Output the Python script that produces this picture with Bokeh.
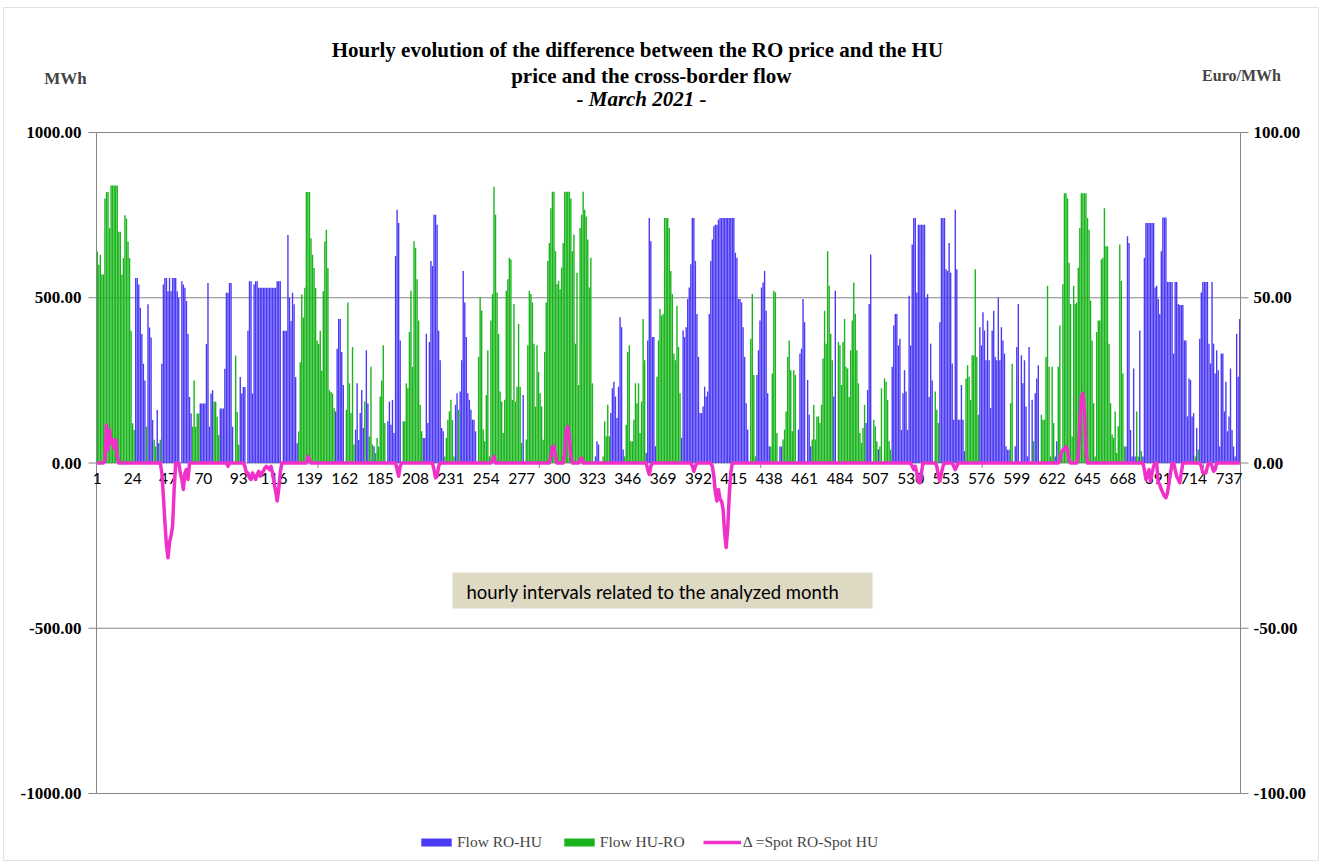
from bokeh.plotting import figure
from bokeh.models import (Range1d, Legend, LegendItem, Label, BoxAnnotation, ColumnDataSource)
from bokeh.core.properties import value
from bokeh.embed import file_html
from bokeh.resources import INLINE

# ---------------- data (one line per day, 24 hours) -------------
hour_labels = [1, 24, 47, 70, 93, 116, 139, 162, 185, 208, 231, 254, 277, 300, 323, 346,
               369, 392, 415, 438, 461, 484, 507, 530, 553, 576, 599, 622, 645, 668, 691,
               714, 737]

# Flow RO-HU, MWh
flow_ro_hu = [
    0, 0, 0, 0, 0, 0, 0, 0, 0, 0, 0, 0, 0, 0, 0, 0, 0, 0, 0, 0, 0, 0, 0, 0,
    0, 560, 560, 540, 470, 390, 300, 250, 0, 480, 410, 380, 130, 0, 0, 160, 60, 0, 300, 540, 560, 560, 520, 560,
    520, 560, 560, 560, 520, 500, 0, 550, 540, 530, 490, 390, 200, 150, 0, 0, 0, 0, 0, 180, 180, 180, 180, 360,
    545, 110, 210, 220, 0, 0, 0, 0, 165, 165, 165, 285, 515, 515, 545, 545, 110, 0, 0, 0, 0, 260, 210, 230,
    230, 0, 400, 550, 550, 210, 540, 550, 550, 530, 530, 530, 530, 530, 530, 530, 530, 530, 530, 530, 530, 550, 550, 550,
    0, 400, 400, 400, 690, 500, 430, 515, 480, 260, 60, 0, 0, 0, 0, 0, 0, 0, 0, 0, 0, 0, 0, 0,
    0, 0, 0, 0, 0, 0, 0, 0, 0, 0, 0, 156, 346, 436, 436, 336, 236, 0, 0, 0, 0, 0, 0, 0,
    101, 241, 70, 151, 221, 106, 0, 341, 180, 0, 0, 0, 50, 0, 0, 0, 0, 0, 0, 0, 0, 126, 186, 116,
    191, 91, 626, 766, 726, 371, 0, 0, 0, 0, 0, 0, 0, 0, 0, 0, 0, 0, 0, 0, 76, 76, 391, 121,
    366, 611, 596, 751, 751, 721, 400, 311, 106, 96, 0, 0, 0, 0, 0, 0, 0, 176, 211, 0, 216, 311, 581, 486,
    381, 211, 191, 161, 131, 131, 96, 0, 0, 0, 0, 0, 0, 0, 0, 0, 0, 0, 0, 0, 0, 0, 0, 0,
    0, 0, 0, 0, 0, 0, 0, 0, 0, 0, 0, 0, 0, 206, 0, 0, 0, 0, 0, 0, 0, 0, 0, 0,
    0, 0, 0, 0, 0, 0, 0, 0, 0, 0, 0, 0, 0, 0, 0, 0, 0, 0, 0, 0, 0, 0, 0, 0,
    0, 0, 0, 0, 0, 0, 0, 0, 0, 0, 0, 0, 20, 66, 56, 0, 0, 0, 0, 0, 0, 0, 151, 226,
    246, 201, 136, 231, 441, 411, 41, 0, 0, 0, 0, 0, 0, 0, 0, 0, 0, 0, 0, 0, 0, 30, 371, 741,
    671, 381, 381, 51, 0, 0, 0, 0, 0, 0, 0, 0, 0, 0, 0, 0, 0, 0, 0, 0, 76, 401, 381, 411,
    496, 531, 601, 741, 741, 611, 451, 321, 151, 151, 171, 231, 201, 216, 451, 611, 676, 716, 721, 721, 736, 741, 741, 741,
    741, 741, 741, 741, 741, 741, 741, 636, 621, 496, 496, 486, 411, 321, 181, 101, 0, 0, 0, 0, 0, 266, 341, 431,
    531, 546, 581, 461, 211, 51, 0, 0, 0, 0, 0, 0, 50, 50, 0, 0, 0, 0, 0, 0, 0, 0, 0, 0,
    101, 331, 346, 496, 426, 0, 251, 146, 51, 0, 0, 0, 0, 0, 0, 0, 0, 0, 0, 0, 0, 0, 0, 201,
    521, 0, 0, 0, 0, 0, 0, 0, 0, 0, 0, 0, 0, 0, 0, 0, 0, 0, 0, 0, 121, 221, 481, 631,
    0, 0, 0, 0, 41, 0, 0, 0, 0, 0, 0, 0, 0, 291, 416, 451, 451, 356, 376, 100, 211, 281, 216, 100,
    506, 356, 661, 741, 741, 516, 721, 721, 721, 721, 721, 501, 511, 200, 361, 250, 0, 0, 0, 0, 426, 741, 741, 741,
    586, 581, 666, 576, 301, 131, 766, 586, 131, 131, 236, 131, 36, 0, 0, 0, 0, 0, 0, 0, 0, 0, 411, 356,
    456, 401, 311, 431, 311, 166, 401, 461, 321, 311, 501, 311, 411, 371, 331, 51, 40, 40, 0, 0, 0, 51, 351, 481,
    0, 326, 241, 311, 171, 20, 351, 0, 191, 0, 211, 256, 296, 0, 0, 0, 0, 0, 0, 0, 0, 0, 0, 20,
    66, 0, 0, 0, 0, 0, 0, 0, 0, 0, 0, 0, 0, 0, 0, 0, 0, 0, 0, 0, 0, 0, 0, 0,
    0, 0, 0, 0, 0, 0, 0, 0, 0, 0, 0, 0, 0, 0, 0, 0, 0, 0, 0, 0, 0, 50, 686, 666,
    100, 20, 286, 20, 0, 0, 401, 0, 20, 621, 726, 726, 726, 726, 726, 726, 531, 536, 496, 451, 641, 743, 743, 743,
    548, 548, 548, 548, 331, 548, 548, 481, 478, 478, 478, 371, 371, 141, 256, 251, 141, 151, 0, 106, 0, 376, 516, 548,
    548, 548, 548, 361, 301, 548, 361, 271, 341, 281, 50, 331, 331, 156, 246, 96, 141, 286, 100, 50, 20, 391, 261, 436,
]

# Flow HU-RO, MWh
flow_hu_ro = [
    640, 600, 630, 570, 570, 800, 820, 820, 710, 840, 840, 840, 840, 840, 700, 700, 570, 620, 750, 740, 670, 620, 400, 120,
    100, 0, 0, 0, 0, 0, 0, 0, 110, 0, 0, 0, 0, 70, 50, 0, 0, 70, 0, 0, 0, 0, 0, 0,
    0, 0, 0, 0, 0, 0, 0, 0, 0, 0, 0, 0, 0, 0, 110, 250, 110, 150, 150, 0, 0, 0, 0, 0,
    0, 0, 0, 0, 185, 185, 140, 85, 0, 0, 0, 0, 0, 0, 0, 0, 0, 0, 325, 155, 55, 0, 0, 0,
    0, 0, 0, 0, 0, 0, 0, 0, 0, 0, 0, 0, 0, 0, 0, 0, 0, 0, 0, 0, 0, 0, 0, 0,
    0, 0, 0, 0, 0, 0, 0, 0, 0, 0, 0, 95, 305, 510, 440, 530, 820, 820, 820, 680, 630, 590, 530, 370,
    360, 400, 280, 520, 670, 706, 590, 220, 215, 210, 166, 0, 0, 0, 0, 0, 0, 0, 161, 486, 241, 151, 351, 56,
    0, 0, 0, 0, 0, 0, 186, 0, 0, 80, 291, 56, 0, 30, 76, 50, 201, 250, 356, 121, 0, 0, 0, 0,
    0, 0, 0, 0, 0, 0, 0, 126, 126, 241, 226, 396, 521, 291, 671, 651, 556, 431, 176, 96, 0, 0, 0, 0,
    0, 0, 0, 0, 0, 0, 0, 0, 0, 0, 20, 76, 131, 156, 191, 130, 20, 0, 0, 161, 0, 0, 0, 0,
    0, 0, 0, 0, 0, 0, 0, 0, 321, 501, 461, 101, 66, 206, 341, 20, 431, 511, 836, 751, 516, 391, 216, 186,
    91, 191, 521, 556, 621, 616, 191, 481, 186, 231, 421, 231, 61, 0, 0, 71, 356, 521, 511, 486, 361, 171, 356, 276,
    211, 171, 70, 336, 486, 611, 666, 771, 821, 821, 641, 541, 551, 526, 591, 666, 821, 821, 821, 821, 800, 641, 691, 361,
    576, 236, 711, 751, 821, 766, 746, 676, 531, 621, 241, 0, 0, 0, 0, 0, 0, 20, 126, 81, 176, 81, 0, 0,
    0, 0, 0, 0, 0, 0, 0, 20, 116, 336, 356, 66, 66, 131, 241, 181, 241, 91, 186, 436, 311, 0, 0, 0,
    0, 0, 0, 0, 261, 371, 466, 446, 451, 741, 741, 741, 711, 581, 511, 331, 311, 476, 351, 211, 0, 0, 0, 0,
    0, 0, 0, 0, 0, 0, 0, 0, 0, 0, 0, 0, 0, 0, 0, 0, 0, 0, 0, 0, 0, 0, 0, 0,
    0, 0, 0, 0, 0, 0, 0, 0, 0, 0, 0, 0, 0, 0, 0, 0, 0, 376, 511, 266, 20, 0, 0, 0,
    0, 0, 0, 0, 0, 0, 50, 271, 521, 516, 91, 0, 0, 0, 71, 101, 156, 321, 371, 281, 96, 281, 266, 0,
    0, 0, 0, 0, 0, 0, 0, 0, 0, 71, 176, 71, 141, 141, 121, 176, 316, 461, 361, 641, 536, 391, 311, 0,
    0, 0, 366, 356, 236, 366, 436, 291, 286, 200, 341, 431, 546, 451, 341, 241, 91, 61, 106, 176, 0, 0, 0, 0,
    0, 131, 111, 66, 0, 50, 226, 0, 256, 246, 191, 66, 40, 0, 0, 0, 0, 0, 0, 0, 0, 0, 0, 0,
    0, 0, 0, 0, 0, 0, 0, 0, 0, 0, 0, 0, 0, 0, 0, 0, 0, 216, 161, 121, 0, 0, 0, 0,
    0, 0, 0, 0, 0, 0, 0, 0, 0, 0, 0, 0, 0, 256, 296, 261, 191, 326, 326, 586, 321, 146, 0, 0,
    0, 0, 0, 0, 0, 0, 0, 0, 0, 0, 0, 0, 0, 0, 0, 0, 0, 0, 181, 300, 0, 0, 0, 0,
    0, 0, 0, 0, 0, 0, 0, 0, 0, 66, 0, 0, 0, 0, 146, 131, 131, 321, 536, 291, 20, 291, 121, 0,
    0, 291, 416, 20, 541, 816, 816, 801, 606, 481, 80, 536, 481, 486, 591, 711, 816, 816, 816, 816, 741, 706, 491, 371,
    181, 20, 396, 431, 431, 616, 621, 771, 656, 656, 361, 181, 86, 76, 156, 30, 111, 661, 551, 271, 50, 0, 0, 0,
    0, 0, 0, 0, 156, 20, 0, 36, 0, 0, 0, 0, 0, 0, 0, 0, 0, 0, 0, 0, 0, 0, 0, 0,
    0, 0, 0, 0, 0, 0, 0, 0, 0, 0, 0, 0, 0, 0, 0, 0, 0, 0, 20, 0, 41, 0, 0, 0,
    0, 0, 0, 0, 0, 0, 0, 0, 0, 0, 0, 0, 0, 0, 0, 0, 0, 0, 0, 0, 0, 0, 0, 0,
]

# Delta = Spot RO - Spot HU, Euro/MWh
spot_diff = [
    0, 0, 0, 0, 0, 1, 11.5, 4, 10, 6, 7, 4.5, 7, 2, 0, 0, 0, 0, 0, 0, 0, 0, 0, 0,
    0, 0, 0, 0, 0, 0, 0, 0, 0, 0, 0, 0, 0, 0, 0, 0, 0, 0, -3, -10, -18, -25, -28.7, -24,
    -22, -19, -8, 0, 0, 0, -3, -5, -8, -3, -2, -5, 0, 0, 0, 0, 0, 0, 0, 0, 0, 0, 0, 0,
    0, 0, 0, 0, 0, 0, 0, 0, 0, 0, 0, 0, 0, -1, 0, 0, 0, 0, 0, 0, 0, 0, 0, 0,
    -1, -3, -3, -4.5, -5, -3, -4, -5, -3.5, -2.5, -4, -3, -2.5, -1.5, -1, -1.5, -2, -1, -3, -6, -8.5, -11.5, -8, -3,
    0, 0, 0, 0, 0, 0, 0, 0, 0, 0, 0, 0, 0, 0, 0, 0, 0, 2, 1, 0, 0, 0, 0, 0,
    0, 0, 0, 0, 0, 0, 0, 0, 0, 0, 0, 0, 0, 0, 0, 0, 0, 0, 0, 0, 0, 0, 0, 0,
    0, 0, 0, 0, 0, 0, 0, 0, 0, 0, 0, 0, 0, 0, 0, 0, 0, 0, 0, 0, 0, 0, 0, 0,
    0, 0, 0, -2, -4, -1, 0, 0, 0, 0, 0, 0, 0, 0, 0, 0, 0, 0, 0, 0, 0, 0, 0, 0,
    0, 0, 0, -2, -4.5, -4, -1, 0, 0, 0, 0, 0, 0, 0, 0, 0, 0, 0, 0, 0, 0, 0, 0, 0,
    0, 0, 0, 0, 0, 0, 0, 0, 0, 0, 0, 0, 0, 0, 0, 0, 0, 1, 2, 0, 0, 0, 0, 0,
    0, 0, 0, 0, 0, 0, 0, 0, 0, 0, 0, 0, 0, 0, 0, 0, 0, 0, 0, 0, 0, 0, 0, 0,
    0, 0, 0, 0, 0, 0, 0, 2, 5, 5, 2, 0, 0, 0, 0, 0, 3, 10, 11, 8, 2, 0, 0, 0,
    0, 0, 1, 1.5, 0, 0, 0, 0, 0, 0, 0, 0, 0, 0, 0, 0, 0, 0, 0, 0, 0, 0, 0, 0,
    0, 0, 0, 0, 0, 0, 0, 0, 0, 0, 0, 0, 0, 0, 0, 0, 0, 0, 0, 0, 0, 0, -2, -3.5,
    -1, 0, 0, 0, 0, 0, 0, 0, 0, 0, 0, 0, 0, 0, 0, 0, 0, 0, 0, 0, 0, 0, 0, 0,
    0, 0, 0, -1, -2.5, -1, 0, 0, 0, 0, 0, 0, 0, 0, 0, 0, -1, -4, -9, -11.5, -8, -11, -11.5, -14,
    -21, -25.6, -20, -10, -3, 0, 0, 0, 0, 0, 0, 0, 0, 0, 0, 0, 0, 0, 0, 0, 0, 0, 0, 0,
    0, 0, 0, 0, 0, 0, 0, 0, 0, 0, 0, 0, 0, 0, 0, 0, 0, 0, 0, 0, 0, 0, 0, 0,
    0, 0, 0, 0, 0, 0, 0, 0, 0, 0, 0, 0, 0, 0, 0, 0, 0, 0, 0, 0, 0, 0, 0, 0,
    0, 0, 0, 0, 0, 0, 0, 0, 0, 0, 0, 0, 0, 0, 0, 0, 0, 0, 0, 0, 0, 0, 0, 0,
    0, 0, 0, 0, 0, 0, 0, 0, 0, 0, 0, 0, 0, 0, 0, 0, 0, 0, 0, 0, 0, 0, 0, 0,
    0, 0, -1, -2, -1, -3, -5.5, -6, -3, 0, 0, 0, 0, 0, 0, 0, 0, 0, -1, -4, -5.5, -3, -1, 0,
    0, 0, 0, 0, 0, -1, -2, -1, 0, 0, 0, 0, 0, 0, 0, 0, 0, 0, 0, 0, 0, 0, 0, 0,
    0, 0, 0, 0, 0, 0, 0, 0, 0, 0, 0, 0, 0, 0, 0, 0, 0, 0, 0, 0, 0, 0, 0, 0,
    0, 0, 0, 0, 0, 0, 0, 0, 0, 0, 0, 0, 0, 0, 0, 0, 0, 0, 0, 0, 0, 0, 0, 0,
    0, 0, 1, 3, 4, 4, 5, 4, 1, 0, 0, 0, 0, 0, 2, 12, 20, 21, 16, 4, 0, 0, 0, 0,
    0, 0, 0, 0, 0, 0, 0, 0, 0, 0, 0, 0, 0, 0, 0, 0, 0, 0, 0, 0, 0, 0, 0, 0,
    0, 0, 0, 0, 0, 0, 0, 0, 0, -2, -5, -4, -2, -5.5, -3, -1, 0, 0, -6, -6.5, -8, -9, -10, -10.5,
    -9, -6, -3, 0, 0, -2, -4, -5, -6, -3, 0, 0, 0, 0, 0, 0, 0, 0, 0, 0, 0, 0, -1, -3,
    -3, -3, -1, 0, 0, -1, -2.5, -2, 0, 0, 0, 0, 0, 0, 0, 0, 0, 0, 0, 0, 0, 0, 0, 0,
]

left_ticks = [-1000, -500, 0, 500, 1000]
right_ticks = [-100, -50, 0, 50, 100]
zero_tick_hours = [145, 289, 433, 577, 721]

# ---------------- layout (pixels of the page) ----------------
W, H = 1320, 863
PL, PR, PT, PB = 96, 1240, 132, 793          # plot area edges
n_hours = len(flow_ro_hu)
px_hour = (PR - PL) / n_hours
px_mwh = (PB - PT) / (left_ticks[-1] - left_ticks[0])
px_eur = (PB - PT) / (right_ticks[-1] - right_ticks[0])
PZ = (PT + PB) / 2


def xd(px):
    return 0.5 + (px - PL) / px_hour


def yd(py):
    return (PZ - py) / px_mwh


BLUE = "#4b3af4"
GREEN = "#17b41b"
PINK = "#ef30c9"
GREY = "#868686"
SERIF = "Liberation Serif"

p = figure(width=W, height=H, output_backend="svg", toolbar_location=None,
           x_range=Range1d(xd(0), xd(W)), y_range=Range1d(yd(H), yd(0)),
           x_axis_location=None, y_axis_location=None,
           min_border_left=0, min_border_right=0, min_border_top=0, min_border_bottom=0)
p.extra_y_ranges = {"price": Range1d(-(H - PZ) / px_eur, PZ / px_eur)}
p.outline_line_color = None
p.grid.visible = False
p.background_fill_color = "white"
p.border_fill_color = "white"

x_lo, x_hi = 0.5, n_hours + 0.5

# outer chart border
p.add_layout(BoxAnnotation(left=xd(3), right=xd(1318), top=yd(7), bottom=yd(860),
                           fill_alpha=0, line_color="#9a9a9a", line_width=1))

# horizontal grid lines
p.segment(x0=[x_lo] * len(left_ticks), y0=left_ticks, x1=[x_hi] * len(left_ticks), y1=left_ticks,
          line_color=GREY, line_width=1)

# bars
src_b = ColumnDataSource(dict(hour=list(range(1, len(flow_ro_hu) + 1)), v=flow_ro_hu))
src_g = ColumnDataSource(dict(hour=list(range(1, len(flow_hu_ro) + 1)), v=flow_hu_ro))
src_d = ColumnDataSource(dict(hour=list(range(1, len(spot_diff) + 1)), v=spot_diff))
r_blue = p.vbar(x="hour", top="v", width=0.9, source=src_b, fill_color=BLUE, line_color=None)
r_green = p.vbar(x="hour", top="v", width=0.9, source=src_g, fill_color=GREEN, line_color=None)

# vertical axis lines and tick marks
p.segment(x0=[x_lo, x_hi], y0=[left_ticks[0]] * 2, x1=[x_lo, x_hi], y1=[left_ticks[-1]] * 2,
          line_color=GREY, line_width=1)
p.segment(x0=[xd(PL - 8)] * len(left_ticks), y0=left_ticks, x1=[x_lo] * len(left_ticks), y1=left_ticks,
          line_color=GREY, line_width=1)
p.segment(x0=[x_hi] * len(left_ticks), y0=left_ticks, x1=[xd(PR + 8)] * len(left_ticks), y1=left_ticks,
          line_color=GREY, line_width=1)

# axis tick labels
p.text(x=[xd(PL - 15)] * len(left_ticks), y=left_ticks, text=[f"{v:.2f}" for v in left_ticks],
       text_align="right", text_baseline="middle", text_font=value(SERIF),
       text_font_style="bold", text_font_size="17px", text_color="black")
p.text(x=[xd(PR + 13)] * len(right_ticks), y=right_ticks, y_range_name="price",
       text=[f"{v:.2f}" for v in right_ticks],
       text_align="left", text_baseline="middle", text_font=value(SERIF),
       text_font_style="bold", text_font_size="17px", text_color="black")

# hour labels along the zero line
p.text(x=hour_labels, y=[yd(PZ + 15)] * len(hour_labels), text=[str(h) for h in hour_labels],
       text_align="center", text_baseline="middle", text_font=value("Lato"),
       text_font_size="15.5px", text_color="black")
zx = [h - 0.5 for h in zero_tick_hours]
p.segment(x0=zx, y0=[0] * len(zx), x1=zx, y1=[yd(PZ + 5)] * len(zx), line_color=GREY, line_width=1)

# price difference line
r_line = p.line(x="hour", y="v", source=src_d, y_range_name="price",
                line_color=PINK, line_width=3.5, line_join="round")

# annotation box
p.add_layout(BoxAnnotation(left=xd(452), right=xd(872), top=yd(572), bottom=yd(608),
                           fill_color="#ddd9c3", fill_alpha=1.0, line_color=None))
p.add_layout(Label(x=xd(466), y=yd(591), text="hourly intervals related to the analyzed month",
                   text_baseline="middle", text_align="left", text_font="Lato",
                   text_font_size="18.5px", text_color="black"))

# titles and unit labels
title_specs = [
    ("Hourly  evolution of the difference  between  the  RO price  and the HU", 650, 49, "bold"),
    ("price and the cross-border flow", 651, 75, "bold"),
    ("- March 2021 -", 641, 98, "bold italic"),
]
for txt, px, py, style in title_specs:
    p.add_layout(Label(x=xd(px), y=yd(py), text=txt, text_align="center", text_baseline="middle",
                       text_font=SERIF, text_font_style=style, text_font_size="21px",
                       text_color="black"))
p.add_layout(Label(x=xd(65), y=yd(78), text="MWh", text_align="center", text_baseline="middle",
                   text_font=SERIF, text_font_style="bold", text_font_size="17px"))
p.add_layout(Label(x=xd(1241), y=yd(75), text="Euro/MWh", text_align="center", text_baseline="middle",
                   text_font=SERIF, text_font_style="bold", text_font_size="16px"))

legend = Legend(items=[LegendItem(label="Flow RO-HU", renderers=[r_blue]),
                       LegendItem(label="Flow HU-RO", renderers=[r_green]),
                       LegendItem(label="\u0394 =Spot RO-Spot HU", renderers=[r_line])],
                orientation="horizontal", location=(417, H - 851),
                border_line_color=None, background_fill_alpha=0,
                padding=0, margin=0, spacing=18, label_standoff=2,
                glyph_width=38, glyph_height=10, label_height=18,
                label_text_font=SERIF, label_text_font_size="15.5px")
p.add_layout(legend)

open("out.html", "w").write(file_html(p, INLINE))
